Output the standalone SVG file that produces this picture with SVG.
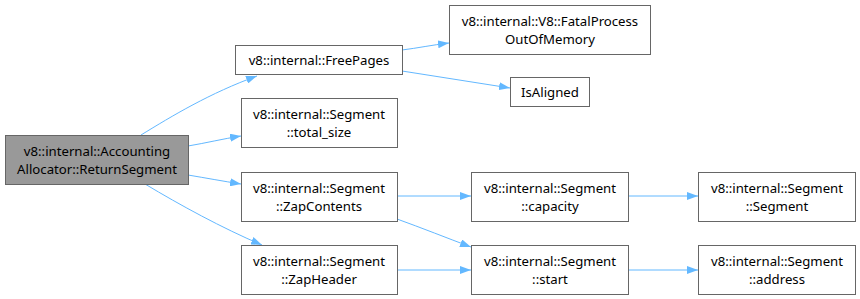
<svg xmlns="http://www.w3.org/2000/svg" width="860" height="299" viewBox="0 0 860 299">
  <style>
    .node rect { fill: #ffffff; stroke: #666666; stroke-width: 1; }
    .node.root rect { fill: #999999; }
    .node text { font-family: "Noto Sans", "DejaVu Sans", sans-serif; font-size: 13.2px; fill: #000000; text-anchor: middle; }
    .edge { fill: none; stroke: #63b8ff; stroke-width: 1; marker-end: url(#arrow); }
  </style>
  <defs>
    <marker id="arrow" markerWidth="11" markerHeight="8" refX="11" refY="4" orient="auto" markerUnits="userSpaceOnUse">
      <path d="M0,0 L11,4 L0,8 Z" fill="#63b8ff"/>
    </marker>
  </defs>

  <g id="edges">
    <path class="edge" d="M141,135 C172,116 210,93 257,76"/>
    <path class="edge" d="M188,146 C206,143 222,139 241,136"/>
    <path class="edge" d="M188,175 C206,178 222,181 241,184"/>
    <path class="edge" d="M145,184 C180,205 222,228 262,245"/>
    <path class="edge" d="M402,50 C418,48 432,45 449,43"/>
    <path class="edge" d="M402,71 C438,77 474,82 510,88"/>
    <path class="edge" d="M397,196 L471,196"/>
    <path class="edge" d="M397,219 C422,228 447,238 471,247"/>
    <path class="edge" d="M397,270 L471,270"/>
    <path class="edge" d="M629,196 L698,196"/>
    <path class="edge" d="M629,270 L698,270"/>
  </g>

  <g id="node-returnsegment" class="node root">
    <rect x="5.5" y="135.5" width="183" height="49"/>
    <text x="97" y="155.5">v8::internal::Accounting</text>
    <text x="97" y="173.5">Allocator::ReturnSegment</text>
  </g>
  <g id="node-freepages" class="node">
    <rect x="235.5" y="45.5" width="167" height="29"/>
    <text x="319" y="64.5">v8::internal::FreePages</text>
  </g>
  <g id="node-fatalprocess" class="node">
    <rect x="449.5" y="5.5" width="201" height="49"/>
    <text x="550" y="25.5">v8::internal::V8::FatalProcess</text>
    <text x="550" y="43.5">OutOfMemory</text>
  </g>
  <g id="node-isaligned" class="node">
    <rect x="510.5" y="77.5" width="79" height="29"/>
    <text x="550" y="96.5">IsAligned</text>
  </g>
  <g id="node-totalsize" class="node">
    <rect x="241.5" y="98.5" width="156" height="49"/>
    <text x="319" y="118.5">v8::internal::Segment</text>
    <text x="319" y="136.5">::total_size</text>
  </g>
  <g id="node-zapcontents" class="node">
    <rect x="241.5" y="172.5" width="156" height="49"/>
    <text x="319" y="192.5">v8::internal::Segment</text>
    <text x="319" y="210.5">::ZapContents</text>
  </g>
  <g id="node-zapheader" class="node">
    <rect x="241.5" y="245.5" width="156" height="49"/>
    <text x="319" y="265.5">v8::internal::Segment</text>
    <text x="319" y="283.5">::ZapHeader</text>
  </g>
  <g id="node-capacity" class="node">
    <rect x="471.5" y="172.5" width="157" height="49"/>
    <text x="550" y="192.5">v8::internal::Segment</text>
    <text x="550" y="210.5">::capacity</text>
  </g>
  <g id="node-start" class="node">
    <rect x="471.5" y="245.5" width="157" height="49"/>
    <text x="550" y="265.5">v8::internal::Segment</text>
    <text x="550" y="283.5">::start</text>
  </g>
  <g id="node-segment" class="node">
    <rect x="698.5" y="172.5" width="157" height="49"/>
    <text x="777" y="192.5">v8::internal::Segment</text>
    <text x="777" y="210.5">::Segment</text>
  </g>
  <g id="node-address" class="node">
    <rect x="698.5" y="245.5" width="157" height="49"/>
    <text x="777" y="265.5">v8::internal::Segment</text>
    <text x="777" y="283.5">::address</text>
  </g>
</svg>
